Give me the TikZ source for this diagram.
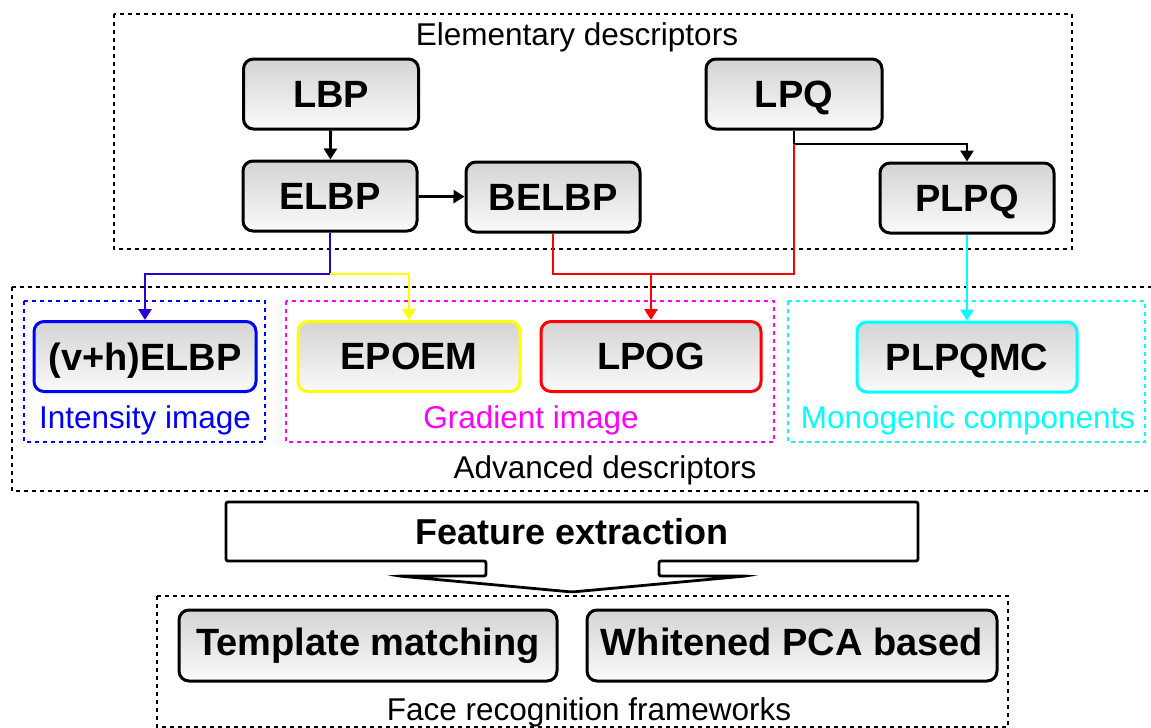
\documentclass[tikz,border=0pt]{standalone}
\usepackage{fontspec}
\setmainfont{Liberation Sans}
\usetikzlibrary{arrows.meta}

\definecolor{linkblue}{RGB}{40,0,210}
\definecolor{pblue}{RGB}{0,0,255}
\definecolor{pcyan}{RGB}{0,255,255}
\definecolor{pmagenta}{RGB}{255,0,255}
\definecolor{pyellow}{RGB}{255,255,0}
\definecolor{pred}{RGB}{255,0,0}

\tikzset{
  box/.style={draw, line width=1.5pt, rounded corners=5pt, top color=black!17, bottom color=black!2,
    inner sep=0pt, minimum height=35pt, text depth=0pt, font=\fontsize{19}{22}\selectfont\bfseries},
  bigbox/.style={box, minimum height=35.5pt, text height=13.7pt, text depth=4pt},
  grp/.style={line width=1.3pt, dash pattern=on 2pt off 2pt},
  lbl/.style={font=\fontsize{15.75}{18}\selectfont, inner sep=0pt},
  link/.style={line width=1.4pt, -{Triangle[length=5.5pt,width=6.5pt]}},
}

\begin{document}
\begin{tikzpicture}[x=0.5pt, y=-0.5pt]
\useasboundingbox (0,0) rectangle (1151,728);

% elementary descriptors
\draw[grp] (114,14) rectangle (1072,249);
\node[lbl] (elem) at (577,37) {Elementary descriptors};

\node[box, minimum width=87.5pt] (lbp) at (331,94) {LBP};
\node[box, minimum width=87pt] (elbp) at (330,196) {ELBP};
\node[box, minimum width=87pt] (belbp) at (553,197) {BELBP};
\node[box, minimum width=88pt] (lpq) at (794,94) {LPQ};
\node[box, minimum width=87pt] (plpq) at (967,198) {PLPQ};

% advanced descriptors
\draw[grp] (12,287) rectangle (1170,491);
\node[lbl] (adv) at (605,470) {Advanced descriptors};

\draw[grp, pblue] (24,301) rectangle (265,442);
\draw[grp, pmagenta] (286,301) rectangle (774,442);
\draw[grp, pcyan] (788,301) rectangle (1145,442);

\node[box, draw=pblue, minimum width=111pt] (vhelbp) at (145,356.5) {(v+h)ELBP};
\node[box, draw=pyellow, minimum width=111pt] (epoem) at (409,356.5) {EPOEM};
\node[box, draw=pred, minimum width=110pt] (lpog) at (651,356.5) {LPOG};
\node[box, draw=pcyan, minimum width=110pt] (plpqmc) at (967,357) {PLPQMC};

\node[lbl, pblue] (intens) at (145,420) {Intensity image};
\node[lbl, pmagenta] (grad) at (531,420) {Gradient image};
\node[lbl, pcyan] (mono) at (968,420) {Monogenic components};

% connectors
\draw[link] (lbp) -- (elbp);
\draw[link] (elbp) -- (belbp);
\coordinate (lpqj) at (794,144);
\draw[line width=1.4pt] (lpq.south) -- (lpqj);
\draw[link] (lpqj) -| (plpq.north);

\coordinate (elbpj) at (330,274);
\draw[link, linkblue] (elbp.south) -- (elbpj) -| (vhelbp.north);
\draw[link, pyellow] (elbpj) -| (epoem.north);

\coordinate (lpogj) at (651,274);
\draw[line width=1.4pt, pred] (belbp.south) |- (lpogj) -| (lpqj);
\draw[link, pred] (lpogj) -- (lpog.north);
\draw[link, pcyan] (plpq) -- (plpqmc);

% feature extraction arrow
\draw[line width=1.4pt, rounded corners=1pt] (226,502) -- (918,502) -- (918,561) -- (659,561) -- (659,576)
  -- (746,576) -- (572,592) -- (399,576) -- (486,576) -- (486,561) -- (226,561) -- cycle;
\node[font=\fontsize{18}{21}\selectfont\bfseries] (fext) at (572,532) {Feature extraction};

% face recognition frameworks
\draw[grp] (157,596) rectangle (1008,727);
\node[bigbox, minimum width=189pt] (tm) at (368,645.5) {Template matching};
\node[bigbox, minimum width=205pt] (wpca) at (792,645.5) {Whitened PCA based};
\node[lbl] (face) at (589,712) {Face recognition frameworks};

\end{tikzpicture}
\end{document}
